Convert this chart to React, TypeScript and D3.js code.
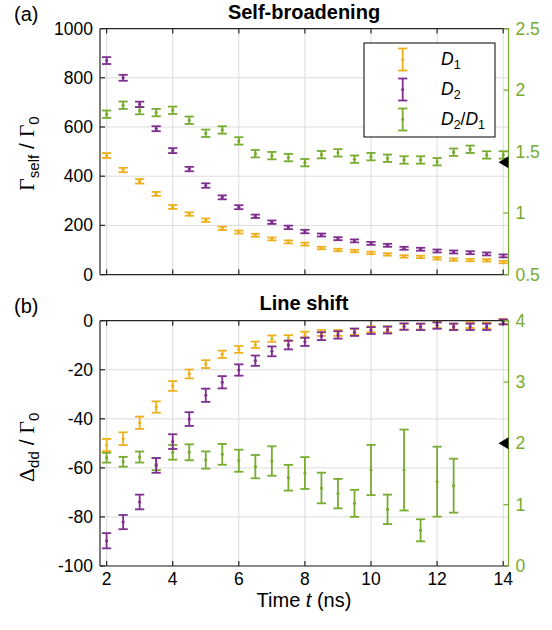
import React from "react";
import * as d3 from "d3";

// ---------- data ----------
const timesAll = [2, 2.5, 3, 3.5, 4, 4.5, 5, 5.5, 6, 6.5, 7, 7.5, 8, 8.5, 9, 9.5, 10, 10.5, 11, 11.5, 12, 12.5, 13, 13.5, 14];
const timesRatioB = [2, 2.5, 3, 3.5, 4, 4.5, 5, 5.5, 6, 6.5, 7, 7.5, 8, 8.5, 9, 9.5, 10, 10.5, 11, 11.5, 12, 12.5];

// (a) Self-broadening
const selfD1 = [484, 425, 379, 328, 275, 246, 221, 188, 173, 160, 145, 133, 124, 108, 100, 96, 88, 82, 74, 72, 66, 61, 59, 58, 51];
const selfD1Err = [10, 9, 9, 8, 8, 7, 7, 7, 6, 6, 6, 6, 6, 5, 5, 5, 5, 5, 5, 5, 5, 5, 5, 5, 5];
const selfD2 = [870, 800, 692, 593, 504, 429, 362, 314, 274, 237, 213, 192, 175, 161, 146, 137, 127, 119, 107, 103, 96, 92, 89, 84, 76];
const selfD2Err = [14, 12, 11, 10, 10, 9, 9, 8, 8, 7, 7, 7, 7, 6, 6, 6, 6, 6, 6, 6, 6, 6, 6, 6, 6];
const selfRatio = [1.804, 1.877, 1.833, 1.817, 1.836, 1.755, 1.649, 1.676, 1.587, 1.483, 1.467, 1.451, 1.41, 1.475, 1.49, 1.438, 1.459, 1.446, 1.432, 1.432, 1.418, 1.495, 1.519, 1.473, 1.473];
const selfRatioErr = [0.03, 0.03, 0.03, 0.03, 0.03, 0.03, 0.03, 0.03, 0.03, 0.03, 0.03, 0.03, 0.03, 0.03, 0.03, 0.03, 0.03, 0.03, 0.03, 0.03, 0.03, 0.03, 0.03, 0.03, 0.03];

// (b) Line shift
const shiftD1 = [-50.7, -48.1, -41.6, -35.2, -26.6, -21.7, -17.7, -13.7, -11.7, -9.8, -7.3, -7.1, -5.7, -5.0, -5.0, -4.5, -3.5, -3.5, -2.4, -2.4, -1.8, -2.4, -1.8, -2.0, -0.3];
const shiftD1Err = [2.5, 2.6, 2.5, 2.3, 2.0, 1.8, 1.6, 1.5, 1.4, 1.3, 1.3, 1.2, 1.2, 1.2, 1.2, 1.2, 1.2, 1.2, 1.2, 1.2, 1.2, 1.2, 1.2, 1.2, 1.0];
const shiftD2 = [-89.7, -82.1, -73.9, -59, -49.3, -40.1, -30.4, -25.1, -20.1, -16.3, -12.5, -9.9, -8.6, -6.3, -5.8, -4.7, -4.0, -3.8, -2.4, -2.5, -2.0, -2.5, -2.5, -2.5, -0.5];
const shiftD2Err = [3.1, 2.9, 3.0, 3.0, 3.0, 2.8, 2.7, 2.5, 2.3, 2.1, 2.0, 1.8, 1.7, 1.6, 1.5, 1.5, 1.4, 1.4, 1.3, 1.3, 1.3, 1.3, 1.3, 1.3, 1.0];
const shiftRatio = [1.766, 1.70, 1.777, 1.663, 1.854, 1.854, 1.728, 1.821, 1.717, 1.62, 1.712, 1.44, 1.516, 1.272, 1.18, 1.022, 1.565, 0.924, 1.565, 0.582, 1.375, 1.31];
const shiftRatioErr = [0.08, 0.08, 0.09, 0.1, 0.12, 0.13, 0.14, 0.17, 0.18, 0.19, 0.24, 0.21, 0.26, 0.25, 0.24, 0.22, 0.41, 0.24, 0.66, 0.18, 0.57, 0.44];

const xTicks = [2, 4, 6, 8, 10, 12, 14];
const topLeftTicks = [0, 200, 400, 600, 800, 1000];
const topRightTicks = [0.5, 1, 1.5, 2, 2.5];
const botLeftTicks = [-100, -80, -60, -40, -20, 0];
const botRightTicks = [0, 1, 2, 3, 4];
const topMarker = Math.SQRT2;
const botMarker = 2;

const legendItems = [
  { key: "D1", sub: "1", color: "#EDB120" },
  { key: "D2", sub: "2", color: "#7E2F8E" },
  { key: "R", sub: "2", color: "#77AC30" },
];

// ---------- style ----------
const ORANGE = "#EDB120";
const PURPLE = "#7E2F8E";
const GREEN = "#77AC30";
const GRID = "#dcdcdc";
const AXIS = "#262626";
const SANS = "'Liberation Sans', Arial, Helvetica, sans-serif";
const SERIF = "'Liberation Serif', 'Times New Roman', serif";
const TICK_FS = 17.5;

const W = 552;
const H = 630;
const L = 100;
const R = 508.5;
const x = d3.scaleLinear().domain([1.8, 14.16]).range([L, R]);

type ErrProps = { xs: number[]; ys: number[]; es: number[]; y: d3.ScaleLinear<number, number>; color: string };
function ErrorBars({ xs, ys, es, y, color }: ErrProps) {
  const cw = 4.6;
  return (
    <g stroke={color} strokeWidth={1.8} fill={color}>
      {ys.map((v, i) => {
        const cx = x(xs[i]);
        const y1 = y(v + es[i]);
        const y2 = y(v - es[i]);
        return (
          <g key={i}>
            <line x1={cx} x2={cx} y1={y1} y2={y2} />
            <line x1={cx - cw} x2={cx + cw} y1={y1} y2={y1} />
            <line x1={cx - cw} x2={cx + cw} y1={y2} y2={y2} />
            <circle cx={cx} cy={y(v)} r={1.6} stroke="none" />
          </g>
        );
      })}
    </g>
  );
}

type PanelProps = {
  top: number;
  bottom: number;
  yl: d3.ScaleLinear<number, number>;
  yr: d3.ScaleLinear<number, number>;
  lTicks: number[];
  rTicks: number[];
  showX: boolean;
  marker: number;
  children?: React.ReactNode;
};
function Panel({ top, bottom, yl, yr, lTicks, rTicks, showX, marker, children }: PanelProps) {
  const tl = 5;
  const my = yr(marker);
  return (
    <g>
      <g stroke={GRID} strokeWidth={1}>
        {xTicks.map((t) => (
          <line key={"gx" + t} x1={x(t)} x2={x(t)} y1={top} y2={bottom} />
        ))}
        {lTicks.map((t) => (
          <line key={"gy" + t} x1={L} x2={R} y1={yl(t)} y2={yl(t)} />
        ))}
      </g>
      {children}
      <g stroke={AXIS} strokeWidth={1.2} fill="none">
        <line x1={L} x2={R} y1={top} y2={top} />
        <line x1={L} x2={R} y1={bottom} y2={bottom} />
        <line x1={L} x2={L} y1={top} y2={bottom} />
        {xTicks.map((t) => (
          <g key={"tx" + t}>
            <line x1={x(t)} x2={x(t)} y1={bottom} y2={bottom - tl} />
            <line x1={x(t)} x2={x(t)} y1={top} y2={top + tl} />
          </g>
        ))}
        {lTicks.map((t) => (
          <line key={"tl" + t} x1={L} x2={L + tl} y1={yl(t)} y2={yl(t)} />
        ))}
      </g>
      <g stroke={GREEN} strokeWidth={1.2}>
        <line x1={R} x2={R} y1={top} y2={bottom} />
        {rTicks.map((t) => (
          <line key={"tr" + t} x1={R} x2={R - tl} y1={yr(t)} y2={yr(t)} />
        ))}
      </g>
      <g fontFamily={SANS} fontSize={TICK_FS} fill="#000">
        {lTicks.map((t) => (
          <text key={"ll" + t} x={L - 7} y={yl(t) + 6} textAnchor="end">
            {t}
          </text>
        ))}
      </g>
      <g fontFamily={SANS} fontSize={TICK_FS} fill={GREEN}>
        {rTicks.map((t) => (
          <text key={"rl" + t} x={R + 7} y={yr(t) + 6} textAnchor="start">
            {t}
          </text>
        ))}
      </g>
      {showX && (
        <g fontFamily={SANS} fontSize={TICK_FS} fill="#000">
          {xTicks.map((t) => (
            <text key={"xl" + t} x={x(t)} y={bottom + 19} textAnchor="middle">
              {t}
            </text>
          ))}
        </g>
      )}
      <path d={`M${R - 10},${my} L${R},${my - 6} L${R},${my + 6} Z`} fill="#000" />
    </g>
  );
}

export default function App() {
  const aTop = 28.6;
  const aBot = 274.6;
  const bTop = 320.7;
  const bBot = 566;
  const yA = d3.scaleLinear().domain([0, 1000]).range([aBot, aTop]);
  const yAR = d3.scaleLinear().domain([0.5, 2.5]).range([aBot, aTop]);
  const yB = d3.scaleLinear().domain([-100, 0]).range([bBot, bTop]);
  const yBR = d3.scaleLinear().domain([0, 4]).range([bBot, bTop]);

  const lgX = 364;
  const lgY = 43;
  const lgW = 131;
  const lgH = 94;

  return (
    <svg width={W} height={H} style={{ position: "absolute", left: 0, top: 0, background: "#fff" }}>
      <rect x={0} y={0} width={W} height={H} fill="#fff" />
      <Panel top={aTop} bottom={aBot} yl={yA} yr={yAR} lTicks={topLeftTicks} rTicks={topRightTicks} showX={false} marker={topMarker}>
        <ErrorBars xs={timesAll} ys={selfRatio} es={selfRatioErr} y={yAR} color={GREEN} />
        <ErrorBars xs={timesAll} ys={selfD1} es={selfD1Err} y={yA} color={ORANGE} />
        <ErrorBars xs={timesAll} ys={selfD2} es={selfD2Err} y={yA} color={PURPLE} />
      </Panel>
      <Panel top={bTop} bottom={bBot} yl={yB} yr={yBR} lTicks={botLeftTicks} rTicks={botRightTicks} showX={true} marker={botMarker}>
        <ErrorBars xs={timesRatioB} ys={shiftRatio} es={shiftRatioErr} y={yBR} color={GREEN} />
        <ErrorBars xs={timesAll} ys={shiftD1} es={shiftD1Err} y={yB} color={ORANGE} />
        <ErrorBars xs={timesAll} ys={shiftD2} es={shiftD2Err} y={yB} color={PURPLE} />
      </Panel>

      <text x={304} y={19} textAnchor="middle" fontFamily={SANS} fontWeight="bold" fontSize={20}>
        Self-broadening
      </text>
      <text x={304} y={310} textAnchor="middle" fontFamily={SANS} fontWeight="bold" fontSize={20}>
        Line shift
      </text>
      <text x={14} y={21} fontFamily={SANS} fontSize={20}>(a)</text>
      <text x={14} y={313} fontFamily={SANS} fontSize={20}>(b)</text>

      <text transform={`translate(34,${(aTop + aBot) / 2 + 2}) rotate(-90)`} textAnchor="middle" fontFamily={SANS} fontSize={21}>
        <tspan fontFamily={SERIF} fontSize={22}>Γ</tspan>
        <tspan fontSize={15} dy={5}>self</tspan>
        <tspan dy={-5}> / </tspan>
        <tspan fontFamily={SERIF} fontSize={22}>Γ</tspan>
        <tspan fontSize={15} dy={5}>0</tspan>
      </text>
      <text transform={`translate(34,${(bTop + bBot) / 2 + 4}) rotate(-90)`} textAnchor="middle" fontFamily={SANS} fontSize={21}>
        <tspan fontFamily={SERIF} fontSize={22}>Δ</tspan>
        <tspan fontSize={15} dy={5}>dd</tspan>
        <tspan dy={-5}> / </tspan>
        <tspan fontFamily={SERIF} fontSize={22}>Γ</tspan>
        <tspan fontSize={15} dy={5}>0</tspan>
      </text>

      <text x={304} y={607} textAnchor="middle" fontFamily={SANS} fontSize={20}>
        Time <tspan fontStyle="italic">t</tspan> (ns)
      </text>

      <rect x={lgX} y={lgY} width={lgW} height={lgH} fill="#fff" stroke="#000" strokeWidth={1} />
      {legendItems.map((it, i) => {
        const cy = 59.5 + i * 30;
        const cx = 402.7;
        return (
          <g key={it.key}>
            <g stroke={it.color} strokeWidth={1.8}>
              <line x1={cx} x2={cx} y1={cy - 11} y2={cy + 11} />
              <line x1={cx - 4.6} x2={cx + 4.6} y1={cy - 11} y2={cy - 11} />
              <line x1={cx - 4.6} x2={cx + 4.6} y1={cy + 11} y2={cy + 11} />
            </g>
            <circle cx={cx} cy={cy} r={1.6} fill={it.color} />
            <text x={441} y={cy + 5} fontFamily={SANS} fontSize={17.5}>
              <tspan fontStyle="italic">D</tspan>
              <tspan fontSize={12.5} dy={4}>{it.sub}</tspan>
              {it.key === "R" && (
                <>
                  <tspan dy={-4}>/</tspan>
                  <tspan fontStyle="italic">D</tspan>
                  <tspan fontSize={12.5} dy={4}>1</tspan>
                </>
              )}
            </text>
          </g>
        );
      })}
    </svg>
  );
}
